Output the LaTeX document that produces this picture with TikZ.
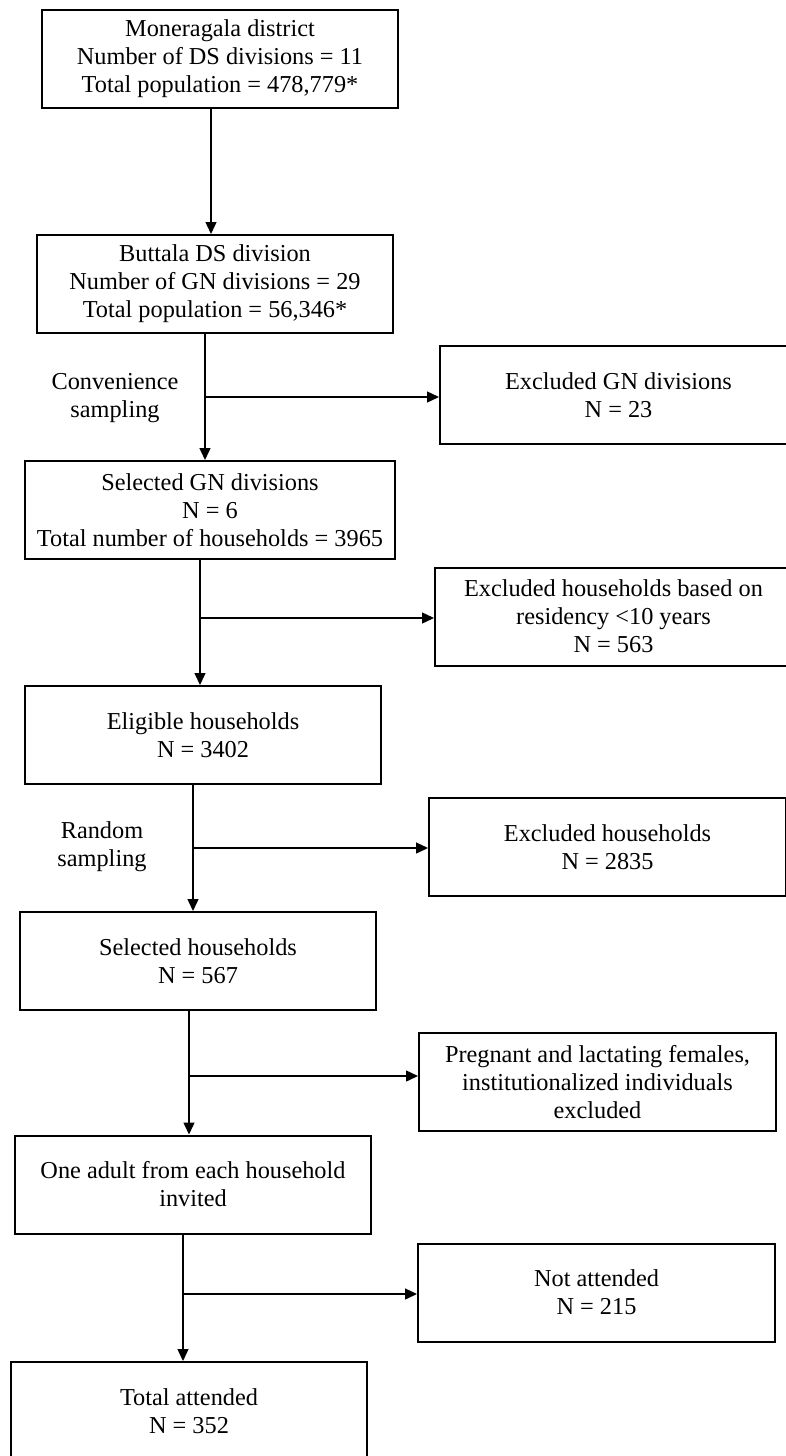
\documentclass[tikz,border=0pt]{standalone}
\usepackage{fontspec}
\setmainfont{Liberation Serif}
\usetikzlibrary{arrows.meta}
\begin{document}
\begin{tikzpicture}[x=1pt,y=-1pt,
  box/.style={draw, line width=2pt, minimum width=356pt, minimum height=98pt, inner sep=0pt, align=center, font=\fontsize{24.3}{28}\selectfont},
  rbox/.style={box, minimum width=357pt},
  lbl/.style={inner sep=0pt, align=center, font=\fontsize{24.3}{28}\selectfont},
  arr/.style={line width=1.4pt, -{Triangle[length=12pt,width=11pt]}}]
\useasboundingbox (0,0) rectangle (786,1456);
\fill[white] (0,0) rectangle (786,1456);
\clip (0,0) rectangle (786,1456);

% main column
\node[box] (b1) at (220,59) {Moneragala district\\Number of DS divisions = 11\\Total population = 478,779*};
\node[box] (b2) at (215,284) {Buttala DS division\\Number of GN divisions = 29\\Total population = 56,346*};
\node[box, minimum width=370pt] (b3) at (210,510) {Selected GN divisions\\N = 6\\Total number of households = 3965};
\node[box] (b4) at (203,735) {Eligible households\\N = 3402};
\node[box] (b5) at (198,961) {Selected households\\N = 567};
\node[box] (b6) at (193,1184.5) {One adult from each household\\invited};
\node[box] (b7) at (189,1411) {Total attended\\N = 352};

% exclusion column
\node[rbox] (r1) at (618.5,395) {Excluded GN divisions\\N = 23};
\node[rbox] (r2) at (613.5,616.5) {Excluded households based on\\residency <10 years\\N = 563};
\node[rbox] (r3) at (607.5,847) {Excluded households\\N = 2835};
\node[rbox] (r4) at (597.5,1082) {Pregnant and lactating females,\\institutionalized individuals\\excluded};
\node[rbox] (r5) at (596.5,1292.5) {Not attended\\N = 215};

% side labels
\node[lbl] (l1) at (115,398) {Convenience\\sampling};
\node[lbl] (l2) at (102,847) {Random\\sampling};

% vertical line positions and junctions
\coordinate (v1) at (211,0);
\coordinate (j1) at (205,397);
\coordinate (j2) at (200,618);
\coordinate (j3) at (193,848);
\coordinate (j4) at (189,1076);
\coordinate (j5) at (183,1294);

\draw[arr] (b1.south -| v1) -- (b2.north -| v1);
\draw[arr] (b2.south -| j1) -- (b3.north -| j1);
\draw[arr] (b3.south -| j2) -- (b4.north -| j2);
\draw[arr] (b4.south -| j3) -- (b5.north -| j3);
\draw[arr] (b5.south -| j4) -- (b6.north -| j4);
\draw[arr] (b6.south -| j5) -- (b7.north -| j5);

\draw[arr] (j1) -- (j1 -| r1.west);
\draw[arr] (j2) -- (j2 -| r2.west);
\draw[arr] (j3) -- (j3 -| r3.west);
\draw[arr] (j4) -- (j4 -| r4.west);
\draw[arr] (j5) -- (j5 -| r5.west);
\end{tikzpicture}
\end{document}
